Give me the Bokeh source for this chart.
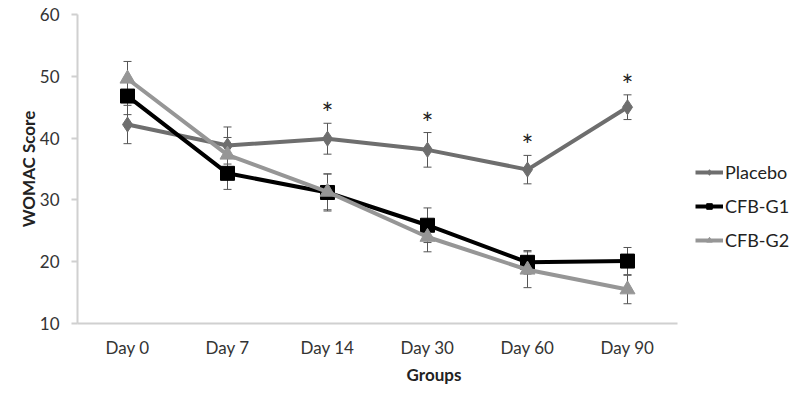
from bokeh.plotting import figure
from bokeh.models import (ColumnDataSource, Range1d, FixedTicker,
                          Whisker, TeeHead, Legend, LegendItem)
from bokeh.core.properties import value
from bokeh.embed import file_html
from bokeh.resources import INLINE

days = ["Day 0", "Day 7", "Day 14", "Day 30", "Day 60", "Day 90"]
placebo = [42.2, 38.8, 39.9, 38.1, 34.9, 45.0]
placebo_err = [3.1, 3.0, 2.5, 2.8, 2.3, 2.0]
g1 = [46.8, 34.3, 31.2, 25.9, 19.9, 20.1]
g1_err = [3.0, 2.6, 3.0, 2.8, 1.9, 2.2]
g2 = [49.6, 37.3, 31.3, 24.0, 18.7, 15.5]
g2_err = [2.8, 2.8, 2.9, 2.4, 2.9, 2.3]
signif = ["", "", "*", "*", "*", "*"]
y_ticks = [10, 20, 30, 40, 50, 60]

FONT = "Lato"

# category slots: each day occupies one unit, centred at i + 0.5
xs = [i + 0.5 for i in range(len(days))]
n = len(days)

W, H = 790, 394
LEFT, TOP, BOTTOM = 77, 14, 71
frame_w = W - LEFT
# plot area (axis) spans 6 units over 600 px; extra room on the right holds the legend
x_end = n * frame_w / 600.0

p = figure(x_range=Range1d(0, x_end), y_range=Range1d(10, 60),
           width=W, height=H, output_backend="svg", toolbar_location=None,
           min_border_left=LEFT, min_border_right=0, min_border_top=TOP,
           min_border_bottom=BOTTOM)
p.outline_line_color = None
p.xgrid.grid_line_color = None
p.ygrid.grid_line_color = None
p.background_fill_color = "white"

series = [
    ("Placebo", placebo, placebo_err, "#6e6e6e", "diamond", 15),
    ("CFB-G1", g1, g1_err, "#000000", "square", 14),
    ("CFB-G2", g2, g2_err, "#969696", "triangle", 15),
]

items = []
for name, vals, errs, color, marker, size in series:
    src = ColumnDataSource(dict(x=xs, y=vals))
    r_line = p.line("x", "y", source=src, line_color=color, line_width=4)
    r_mark = p.scatter("x", "y", source=src, marker=marker, size=size,
                       fill_color=color, line_color=color)
    items.append(LegendItem(label=name, renderers=[r_line, r_mark]))

for name, vals, errs, color, marker, size in series:
    src = ColumnDataSource(dict(x=xs,
                                upper=[v + e for v, e in zip(vals, errs)],
                                lower=[v - e for v, e in zip(vals, errs)]))
    w = Whisker(base="x", upper="upper", lower="lower", source=src,
                line_color="#555555", line_width=1,
                upper_head=TeeHead(size=8, line_color="#555555", line_width=1),
                lower_head=TeeHead(size=8, line_color="#555555", line_width=1))
    p.add_layout(w)

star_src = ColumnDataSource(dict(x=xs, y=[v + e for v, e in zip(placebo, placebo_err)],
                                 t=signif))
p.text("x", "y", text="t", source=star_src, text_align="center",
       text_baseline="middle", y_offset=-10, text_font=value(FONT),
       text_font_size="28px", text_color="#222222")

# axes
p.yaxis.ticker = FixedTicker(ticks=y_ticks)
p.xaxis.ticker = FixedTicker(ticks=xs)
p.xaxis.major_label_overrides = {x: d for x, d in zip(xs, days)}
p.xaxis.bounds = (0, n)
for ax in (p.xaxis[0], p.yaxis[0]):
    ax.axis_line_color = "#d0d0d0"
    ax.axis_line_width = 2
    ax.major_label_text_font = FONT
    ax.major_label_text_font_size = "17px"
    ax.major_label_text_color = "#333333"
    ax.axis_label_text_font = FONT
    ax.axis_label_text_font_style = "bold"
    ax.axis_label_text_font_size = "17px"
    ax.axis_label_text_color = "#222222"
    ax.minor_tick_line_color = None

p.xaxis.major_tick_line_color = None
p.xaxis.major_label_standoff = 7
p.xaxis.axis_label = "Groups"
p.xaxis.axis_label_standoff = 3

p.yaxis.major_tick_line_color = "#d0d0d0"
p.yaxis.major_tick_line_width = 2
p.yaxis.major_tick_out = 6
p.yaxis.major_tick_in = 0
p.yaxis.major_label_standoff = 12
p.yaxis.axis_label = "WOMAC Score"
p.yaxis.axis_label_standoff = -2

legend = Legend(items=items, location=(618, 72), glyph_width=28,
                glyph_height=14, spacing=12, padding=0, margin=0,
                label_text_font=FONT, label_text_font_size="18px",
                label_text_color="#222222", label_standoff=2,
                background_fill_alpha=0, border_line_color=None)
p.add_layout(legend, "center")

open("out.html", "w").write(file_html(p, INLINE))
